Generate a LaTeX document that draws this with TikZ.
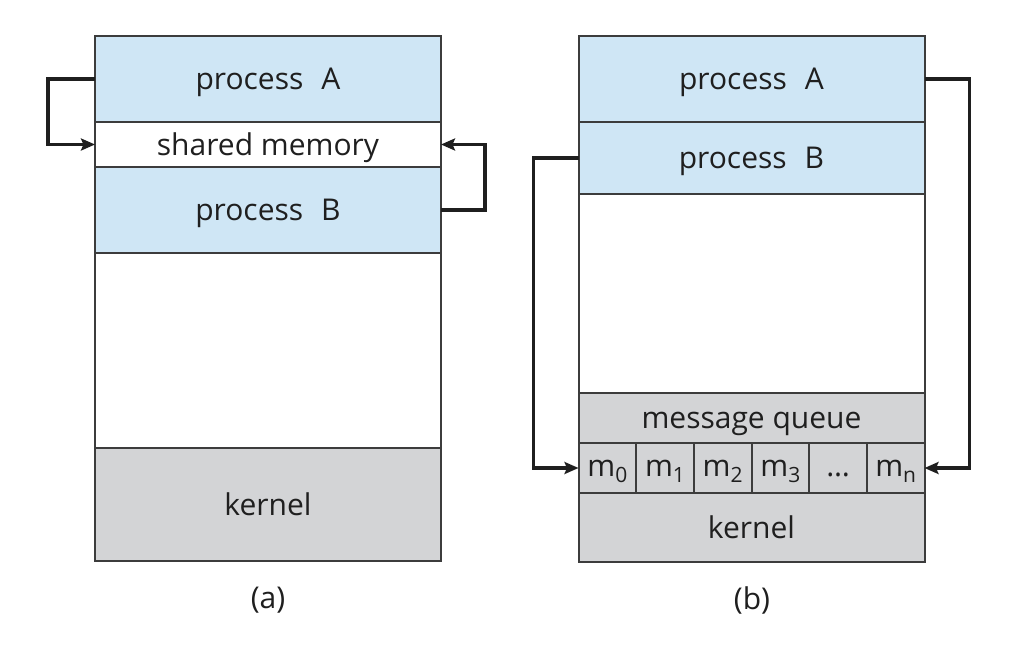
\documentclass[tikz,border=0pt]{standalone}
\usepackage{fontspec}
\setmainfont{Open Sans}
\usetikzlibrary{arrows.meta}
\definecolor{procblue}{HTML}{CFE6F5}
\definecolor{kerngray}{HTML}{D3D4D6}
\definecolor{edgegray}{HTML}{3C3C3C}
\tikzset{
  seg/.style={draw=edgegray, line width=2pt, minimum width=346pt, inner sep=0pt, outer sep=0pt,
    font=\fontsize{30}{34}\selectfont, text=black!88, text height=21pt, text depth=0pt},
  proc/.style={seg, fill=procblue},
  kern/.style={seg, fill=kerngray},
  msg/.style={kern, minimum width=346pt/6, minimum height=50pt, text height=16pt},
  link/.style={draw=black!88, line width=3.2pt, -{Stealth[length=14pt,width=12pt,inset=2.5pt]}},
  caption/.style={font=\fontsize{30}{34}\selectfont, text=black!88}
}
\newcommand{\pgap}{\hspace{0.6em}}
\newcommand{\msub}[1]{m\raisebox{-6pt}{\fontsize{21}{21}\selectfont #1}}

\begin{document}
\begin{tikzpicture}[x=1pt,y=-1pt]
    \useasboundingbox (0,0) rectangle (1022,646);
    % (a) shared memory
    \node[proc, minimum height=86pt] (procA) at (268,79) {process\pgap A};
    \node[seg, minimum height=45pt] (shm) at (268,144.5) {shared memory};
    \node[proc, minimum height=86pt] (procB) at (268,210) {process\pgap B};
    \node[seg, minimum height=195pt] (freeA) at (268,350.5) {};
    \node[kern, minimum height=113pt] (kernA) at (268,504.5) {kernel};
    \draw[link] (procA.west) -- ++(-47,0) |- (shm.west);
    \draw[link] (procB.east) -- ++(44,0) |- (shm.east);
    \node[caption] (capA) at (268,600) {(a)};

    % (b) message passing
    \node[proc, minimum height=86pt] (procA2) at (751.5,79) {process\pgap A};
    \node[proc, minimum height=72pt] (procB2) at (751.5,158) {process\pgap B};
    \node[seg, minimum height=199pt] (freeB) at (751.5,293.5) {};
    \node[kern, minimum height=50pt] (queue) at (751.5,418) {message queue};
    \foreach \i/\lab in {0/{\msub{0}},1/{\msub{1}},2/{\msub{2}},
                          3/{\msub{3}},4/{\ldots},5/{\msub{n}}} {
        \node[msg] (m\i) at ({578.5+57.667*(\i+0.5)},468) {\lab};
    }
    \node[kern, minimum height=69pt] (kernB) at (751.5,527.5) {kernel};
    \draw[link] (procB2.west) -- ++(-45,0) |- (m0.west);
    \draw[link] (procA2.east) -- ++(45,0) |- (m5.east);
    \node[caption] (capB) at (752,600) {(b)};
\end{tikzpicture}
\end{document}
